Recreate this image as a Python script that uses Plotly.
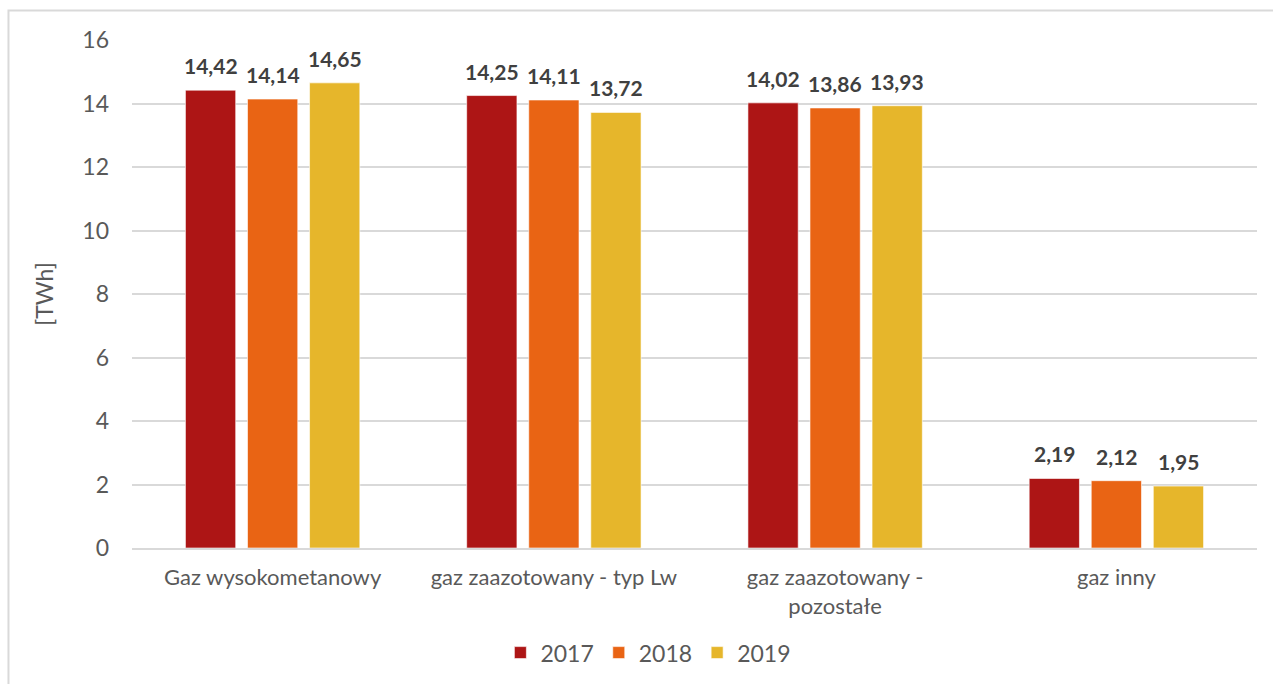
import plotly.graph_objects as go

# Gas consumption by type [TWh]
categories = ["Gaz wysokometanowy", "gaz zaazotowany - typ Lw",
              "gaz zaazotowany -<br>pozostałe", "gaz inny"]
years = ["2017", "2018", "2019"]
values_2017 = [14.42, 14.25, 14.02, 2.19]
values_2018 = [14.14, 14.11, 13.86, 2.12]
values_2019 = [14.65, 13.72, 13.93, 1.95]
colors = ["#AD1515", "#E96414", "#E6B62B"]

series = [values_2017, values_2018, values_2019]

FONT = "Lato, 'Open Sans', sans-serif"
GREY = "#595959"

fig = go.Figure()
for i, (name, vals, col) in enumerate(zip(years, series, colors)):
    fig.add_trace(go.Bar(
        x=categories, y=vals, name=name,
        marker=dict(color=col, line=dict(color="rgba(255,255,255,0.6)", width=1)),
    ))

# Value labels above each bar (grouped offsets: -1, 0, +1 bar slots)
n_groups = len(series)
slot = (1 - 0.338) / n_groups
for i, vals in enumerate(series):
    off = (i - (n_groups - 1) / 2) * slot
    for j, v in enumerate(vals):
        fig.add_annotation(
            x=j + off, y=v, xref="x", yref="y",
            text=f"<b>{v:.2f}</b>".replace(".", ","),
            showarrow=False, yanchor="bottom", yshift=10,
            font=dict(family=FONT, size=21, color="#404040"),
        )

fig.update_layout(
    width=1273, height=684,
    margin=dict(l=132, r=16, t=40, b=136, autoexpand=False),
    paper_bgcolor="white", plot_bgcolor="white",
    barmode="group", bargap=0.338, bargroupgap=0.19,
    font=dict(family=FONT, color=GREY),
    showlegend=True,
    legend=dict(orientation="h", x=0.459, xanchor="center", y=-0.206, yanchor="middle",
                font=dict(size=23, color=GREY), itemwidth=30, tracegroupgap=0),
    yaxis=dict(range=[0, 16], dtick=2, showgrid=True, gridcolor="#D9D9D9", gridwidth=1.5,
               zeroline=False, tickfont=dict(size=23, color=GREY),
               ticks="", ticklabelstandoff=22,
               title=dict(text="[TWh]", font=dict(size=23, color=GREY), standoff=22)),
    xaxis=dict(showline=True, linecolor="#D9D9D9", linewidth=1.5, ticks="",
               tickfont=dict(size=22, color=GREY), ticklabelstandoff=9),
    shapes=[dict(type="rect", xref="paper", yref="paper",
                 x0=-0.1098, y0=-0.6, x1=1.2, y1=1.058,
                 line=dict(color="#D9D9D9", width=2), layer="below")],
)

fig.write_html("out.html")
